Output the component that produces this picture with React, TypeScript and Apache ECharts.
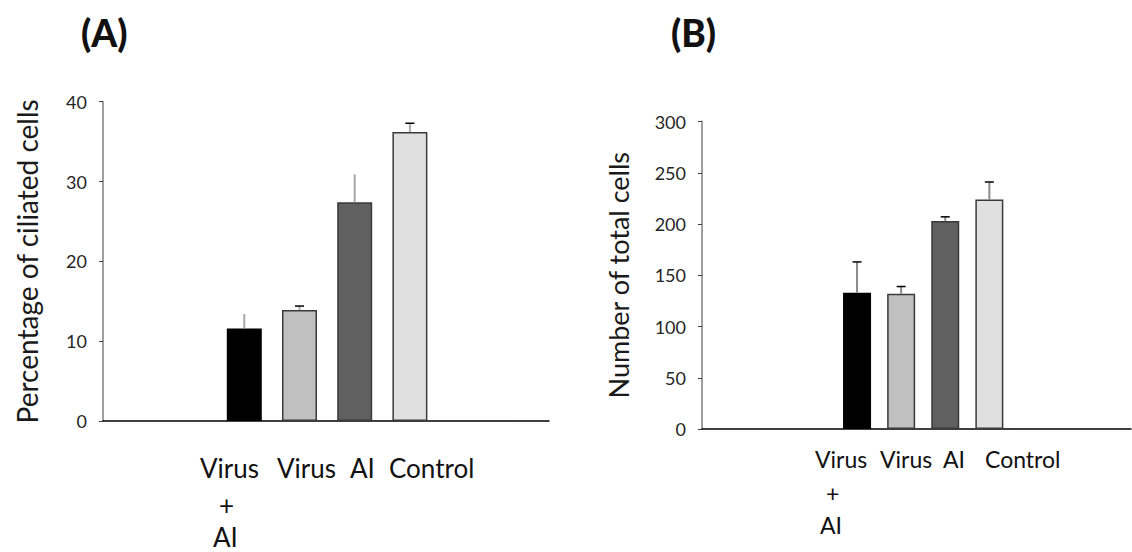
import React, { useEffect, useRef } from "react";
import * as echarts from "echarts";

// ---------- data ----------
const categories = ["Virus + AI", "Virus", "AI", "Control"];
const barColors = ["#000000", "#c0c0c0", "#606060", "#e0e0e0"];

// Panel A: percentage of ciliated cells
const ciliatedMean = [11.6, 13.9, 27.4, 36.2];
const ciliatedErr = [1.8, 0.5, 3.5, 1.1];
const ciliatedCap = [0, 1, 0, 1];
const ciliatedTicks = { min: 0, max: 40, interval: 10 };

// Panel B: number of total cells
const totalMean = [133, 132, 203, 224];
const totalErr = [30, 7, 4, 17];
const totalCap = [1, 1, 1, 1];
const totalTicks = { min: 0, max: 300, interval: 50 };

const labelLine1 = ["Virus", "Virus", "AI", "Control"];
const labelLine2 = "+";
const labelLine3 = "AI";

const FONT = "Lato";

function renderErr(params: any, api: any) {
  const i = api.value(0);
  const v = api.value(1);
  const e = api.value(2);
  const cap = api.value(3);
  const p0 = api.coord([i, v]);
  const p1 = api.coord([i, v + e]);
  const children: any[] = [
    {
      type: "line",
      shape: { x1: p0[0], y1: p0[1], x2: p1[0], y2: p1[1] },
      style: { stroke: params.seriesIndex === 1 ? "#a8a8a8" : "#8a8a8a", lineWidth: 2 },
    },
  ];
  if (cap) {
    children.push({
      type: "line",
      shape: { x1: p1[0] - 4.5, y1: p1[1], x2: p1[0] + 4.5, y2: p1[1] },
      style: { stroke: "#000", lineWidth: 1.5 },
    });
  }
  return { type: "group", children };
}

export default function App() {
  const ref = useRef<HTMLDivElement>(null);
  useEffect(() => {
    if (!ref.current) return;
    const chart = echarts.init(ref.current, undefined, { renderer: "svg" });

    const gridA = { left: 103, top: 101.7, width: 446, height: 319.3 };
    const gridAB = { left: 216.7, top: 101.7, width: 220.8, height: 319.3 };
    const gridB = { left: 702, top: 121.5, width: 429, height: 307.5 };
    const gridBB = { left: 835, top: 121.5, width: 176.4, height: 307.5 };

    const valueAxisVisible = (t: any, name: string, nameGap: number, nameSize: number, grid: number) => ({
      type: "value",
      gridIndex: grid,
      min: t.min,
      max: t.max,
      interval: t.interval,
      name,
      nameLocation: "middle",
      nameGap,
      nameRotate: 90,
      nameTextStyle: { fontFamily: FONT, fontSize: nameSize, color: "#1a1a1a" },
      axisLine: { show: true, lineStyle: { color: "#a0a0a0", width: 2 } },
      axisTick: { show: true, inside: false, length: 4, lineStyle: { color: "#404040", width: 1 } },
      axisLabel: { fontFamily: FONT, fontSize: 18, color: "#262626", margin: 16 },
      splitLine: { show: false },
    });
    const valueAxisHidden = (t: any, grid: number) => ({
      type: "value",
      gridIndex: grid,
      min: t.min,
      max: t.max,
      interval: t.interval,
      show: false,
    });
    const catAxisLine = (grid: number) => ({
      type: "category",
      gridIndex: grid,
      data: [""],
      axisLine: { show: true, lineStyle: { color: "#000", width: 1.5 } },
      axisTick: { show: false },
      axisLabel: { show: false },
    });
    const catAxisBars = (grid: number) => ({
      type: "category",
      gridIndex: grid,
      data: categories,
      show: false,
    });

    const barSeries = (vals: number[], xi: number, yi: number, w: number) => ({
      type: "bar",
      xAxisIndex: xi,
      yAxisIndex: yi,
      barWidth: w,
      data: vals.map((v, i) => ({
        value: v,
        itemStyle: {
          color: barColors[i],
          borderColor: i === 0 ? "#000" : "#3a3a3a",
          borderWidth: 1.5,
        },
      })),
    });
    const errSeries = (vals: number[], errs: number[], caps: number[], xi: number, yi: number) => ({
      type: "custom",
      xAxisIndex: xi,
      yAxisIndex: yi,
      renderItem: renderErr,
      encode: { x: 0, y: 1 },
      data: vals.map((v, i) => [i, v, errs[i], caps[i]]),
      z: 5,
    });

    const txt = (text: string, x: number, y: number, size: number, bold = false) => ({
      type: "text",
      x,
      y,
      style: {
        text,
        fontFamily: FONT,
        fontSize: size,
        fontWeight: bold ? 900 : "normal",
        fill: "#111",
        align: "left",
        verticalAlign: "middle",
      },
    });

    const xA = [200, 277, 350, 389];
    const xB = [815, 880, 943, 985];

    chart.setOption({
      animation: false,
      grid: [gridA, gridAB, gridB, gridBB],
      xAxis: [catAxisLine(0), catAxisBars(1), catAxisLine(2), catAxisBars(3)],
      yAxis: [
        valueAxisVisible(ciliatedTicks, "Percentage of ciliated cells", 62, 28, 0),
        valueAxisHidden(ciliatedTicks, 1),
        valueAxisVisible(totalTicks, "Number of total cells", 70, 27, 2),
        valueAxisHidden(totalTicks, 3),
      ],
      series: [
        barSeries(ciliatedMean, 1, 1, 35),
        errSeries(ciliatedMean, ciliatedErr, ciliatedCap, 1, 1),
        barSeries(totalMean, 3, 3, 28),
        errSeries(totalMean, totalErr, totalCap, 3, 3),
      ],
      graphic: [
        txt("(A)", 81, 32, 37, true),
        txt("(B)", 671, 32, 37, true),
        ...labelLine1.map((t, i) => txt(t, xA[i], 468, 26)),
        txt(labelLine2, 219, 505, 26),
        txt(labelLine3, 213, 537, 26),
        ...labelLine1.map((t, i) => txt(t, xB[i], 459, 23)),
        txt(labelLine2, 826, 493, 23),
        txt(labelLine3, 820, 525, 23),
      ],
    });
    return () => chart.dispose();
  }, []);
  return (
    <div
      ref={ref}
      style={{ position: "fixed", left: 0, top: 0, width: 1132, height: 552, background: "#fff" }}
    />
  );
}
